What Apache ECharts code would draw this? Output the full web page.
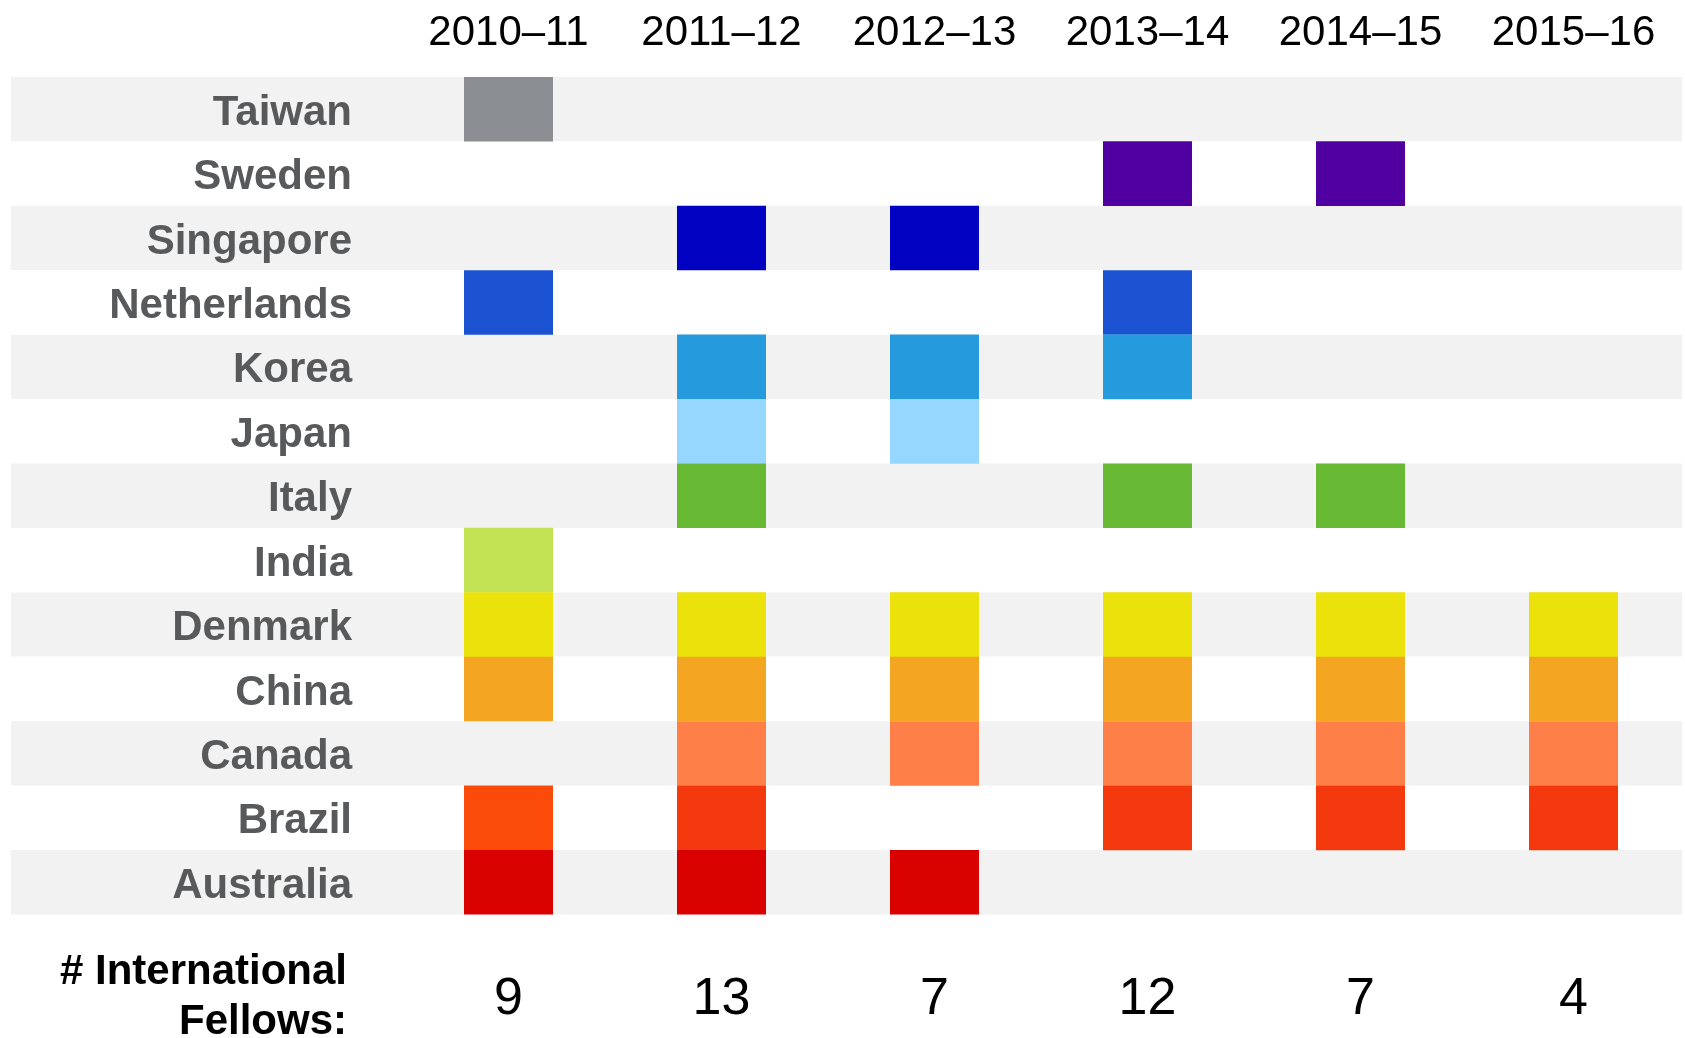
<!DOCTYPE html>
<html><head><meta charset="utf-8">
<script src="https://cdn.jsdelivr.net/npm/echarts@6/dist/echarts.min.js"></script>
<style>html,body{margin:0;padding:0;background:#fff}#c{width:1685px;height:1038px}</style>
</head><body><div id="c"></div>
<script>
const years = ['2010–11', '2011–12', '2012–13', '2013–14', '2014–15', '2015–16'];
const countries = ['Taiwan', 'Sweden', 'Singapore', 'Netherlands', 'Korea', 'Japan', 'Italy', 'India', 'Denmark', 'China', 'Canada', 'Brazil', 'Australia'];
const countryColors = ['#8B8E92', '#5000A0', '#0202C2', '#1A52D1', '#259ADC', '#95D7FF', '#67B833', '#C2E253', '#EAE20A', '#F4A623', '#FE7F47', '#F5390F', '#D90000'];
const cellColorOverrides = { 'Brazil|2010–11': '#FA4B0A' };
const fellows = [9, 13, 7, 12, 7, 4];

// participation per country, one flag per year (1 = present)
const taiwan      = [1, 0, 0, 0, 0, 0];
const sweden      = [0, 0, 0, 1, 1, 0];
const singapore   = [0, 1, 1, 0, 0, 0];
const netherlands = [1, 0, 0, 1, 0, 0];
const korea       = [0, 1, 1, 1, 0, 0];
const japan       = [0, 1, 1, 0, 0, 0];
const italy       = [0, 1, 0, 1, 1, 0];
const india       = [1, 0, 0, 0, 0, 0];
const denmark     = [1, 1, 1, 1, 1, 1];
const china       = [1, 1, 1, 1, 1, 1];
const canada      = [0, 1, 1, 1, 1, 1];
const brazil      = [1, 1, 0, 1, 1, 1];
const australia   = [1, 1, 1, 0, 0, 0];
const participation = [taiwan, sweden, singapore, netherlands, korea, japan, italy, india, denmark, china, canada, brazil, australia];

const cells = [];
participation.forEach((row, ci) => {
  row.forEach((v, yi) => {
    if (v) {
      const key = countries[ci] + '|' + years[yi];
      cells.push({ value: [yi, ci], itemStyle: { color: cellColorOverrides[key] || countryColors[ci] } });
    }
  });
});

const FONT = '"Liberation Sans", Arial, Helvetica, sans-serif';
const chart = echarts.init(document.getElementById('c'));
chart.setOption({
  animation: false,
  backgroundColor: '#ffffff',
  grid: [
    { left: 402, right: 5, top: 77, bottom: 123.5 },
    { left: 11, right: 3, top: 77, bottom: 123.5 }
  ],
  xAxis: [
    { type: 'category', gridIndex: 0, data: years, position: 'top',
      axisLine: { show: false }, axisTick: { show: false }, splitLine: { show: false },
      axisLabel: { fontFamily: FONT, fontSize: 42, color: '#000', margin: 23, lineHeight: 42 } },
    { type: 'category', gridIndex: 0, data: fellows.map(String), position: 'bottom',
      axisLine: { show: false }, axisTick: { show: false }, splitLine: { show: false },
      axisLabel: { fontFamily: FONT, fontSize: 52, color: '#000', margin: 59, lineHeight: 52 } },
    { type: 'value', gridIndex: 1, min: 0, max: 1, show: false }
  ],
  yAxis: [
    { type: 'category', gridIndex: 0, data: countries, inverse: true,
      axisLine: { show: false }, axisTick: { show: false }, splitLine: { show: false },
      axisLabel: { fontFamily: FONT, fontSize: 42, fontWeight: 'bold', color: '#58595B', margin: 50,
        verticalAlign: 'top', lineHeight: 8 } },
    { type: 'category', gridIndex: 1, data: countries, inverse: true,
      axisLine: { show: false }, axisTick: { show: false }, axisLabel: { show: false },
      splitLine: { show: false },
      splitArea: { show: true, areaStyle: { color: ['#F2F2F2', '#FFFFFF'] } } }
  ],
  series: [{
    type: 'scatter', xAxisIndex: 0, yAxisIndex: 0,
    symbol: 'rect', symbolSize: [89, 64.6],
    itemStyle: { opacity: 1 },
    emphasis: { disabled: true },
    data: cells, z: 5
  }],
  graphic: [{
    type: 'text', x: 347, y: 947,
    style: { text: '# International\nFellows:', fill: '#000', font: 'bold 42px ' + FONT,
      align: 'right', verticalAlign: 'top', lineHeight: 50 }
  }]
});
</script></body></html>
